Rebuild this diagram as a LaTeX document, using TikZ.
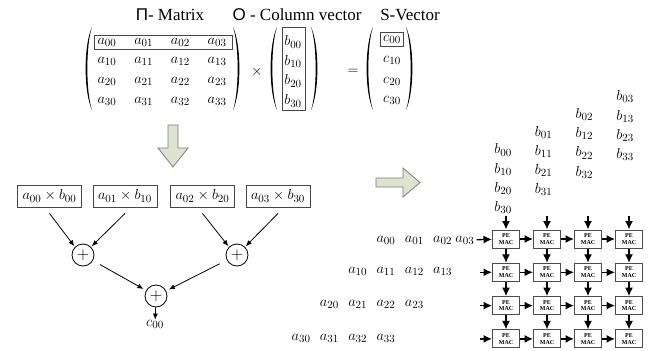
\documentclass[tikz,border=0pt]{standalone}
\usepackage{fontspec}
\newfontfamily\seriflabel{Liberation Serif}
\newfontfamily\sanslabel{Liberation Sans}
\usepackage{amsmath}
\usepackage{xcolor}
\definecolor{arrowfill}{RGB}{222,227,208}
\definecolor{arrowedge}{RGB}{125,125,125}
\definecolor{boxedge}{RGB}{70,70,70}
\usetikzlibrary{arrows.meta, positioning, calc}

% parentheses of the matrices (x of outer edge)
\newcommand{\leftbrk}[1]{\fill (#1+7,27) .. controls (#1-1.5,45) and (#1-1.5,92) .. (#1+7,110)
    .. controls (#1+0.8,92) and (#1+0.8,45) .. cycle;}
\newcommand{\rightbrk}[1]{\fill (#1-7,27) .. controls (#1+1.5,45) and (#1+1.5,92) .. (#1-7,110)
    .. controls (#1-0.8,92) and (#1-0.8,45) .. cycle;}

\begin{document}
\begin{tikzpicture}[
    x=1pt, y=-1pt,
    >={Latex[length=6pt,width=5pt]},
    entry/.style={inner sep=0pt, font=\fontsize{15}{17}\selectfont},
    heading/.style={font=\seriflabel\fontsize{17}{19}\selectfont},
    prodbox/.style={draw=boxedge, line width=0.9pt, minimum width=64pt, minimum height=22pt, inner sep=2pt, font=\fontsize{15}{17}\selectfont},
    adder/.style={circle, draw, line width=0.8pt, minimum size=22pt, inner sep=0pt, font=\fontsize{16}{18}\selectfont},
    pe/.style={draw=black!70, line width=1pt, fill=white, minimum width=27pt, minimum height=18pt, inner sep=0pt, align=center, font=\seriflabel\bfseries\fontsize{6}{6.5}\selectfont},
    flow/.style={->, >={Latex[length=8.5pt,width=8pt]}, line width=1.3pt},
    blockarrow/.style={fill=arrowfill, draw=arrowedge, line width=0.8pt}
]
\useasboundingbox (0,0) rectangle (654,351);

% Titulos
\node[heading] (tmat) at (170,15) {{\sanslabel Π}- Matrix};
\node[heading] (tcol) at (297,15) {{\sanslabel O} - Column vector};
\node[heading] (tsv) at (410,15) {S-Vector};

% Matriz A
\leftbrk{85} \rightbrk{240}
\foreach \i/\y in {0/42,1/61.5,2/81,3/101} {
    \foreach \j in {0,...,3} {
        \node[entry] (m-\i-\j) at ({107+36.7*\j}, \y) {$a_{\i\j}$};
    }
}
\draw[boxedge, line width=0.9pt] (94,35) rectangle (232,49);
\node[entry] (times) at (257,72) {$\times$};

% Vector B
\leftbrk{270} \rightbrk{318}
\foreach \i/\y in {0/42,1/61.5,2/81,3/101} {
    \node[entry] (bv-\i) at (293, \y) {$b_{\i0}$};
}
\draw[boxedge, line width=0.9pt] (282,27) rectangle (305,110);
\node[entry] (equals) at (353,72) {$=$};

% Vector C
\leftbrk{366} \rightbrk{413}
\foreach \i/\y in {0/39.5,1/60.5,2/81,3/100} {
    \node[entry] (cv-\i) at (392, \y) {$c_{\i0}$};
}
\draw[boxedge, line width=0.9pt] (380,32.5) rectangle (403,46.5);

% Flechas gruesas
\draw[blockarrow] (168,125) -- (178,125) -- (178,148) -- (188,148) -- (173,167) -- (158,148) -- (168,148) -- cycle;
\draw[blockarrow] (376,178) -- (403,178) -- (403,168) -- (420,182.5) -- (403,197) -- (403,187) -- (376,187) -- cycle;

% Productos y sumas
\node[prodbox] (p1) at (49.5,196) {$a_{00} \times b_{00}$};
\node[prodbox] (p2) at (125,196) {$a_{01} \times b_{10}$};
\node[prodbox] (p3) at (202.5,196) {$a_{02} \times b_{20}$};
\node[prodbox] (p4) at (278,196) {$a_{03} \times b_{30}$};

\node[adder] (s1) at (83,255) {$+$};
\node[adder] (s2) at (237,255) {$+$};
\node[adder] (s3) at (156,296) {$+$};
\node[entry] (c00) at (155,324) {$c_{00}$};

\draw[->, line width=0.8pt, shorten >=1pt] ([yshift=-6pt]p1.south) -- (s1.north west);
\draw[->, line width=0.8pt, shorten >=1pt] ([yshift=-6pt]p2.south) -- (s1.north east);
\draw[->, line width=0.8pt, shorten >=1pt] ([yshift=-6pt]p3.south) -- (s2.north west);
\draw[->, line width=0.8pt, shorten >=1pt] ([yshift=-6pt]p4.south) -- (s2.north east);
\draw[->, line width=0.8pt, shorten <=8pt, shorten >=3pt] (s1) -- (s3);
\draw[->, line width=0.8pt, shorten <=8pt, shorten >=3pt] (s2) -- (s3);
\draw[->, line width=0.8pt] (s3) -- (c00);

% Entradas b (columnas escalonadas)
\foreach \k in {0,...,3} {
    \foreach \r in {0,...,3} {
        \node[entry] (sb-\r-\k) at ({503+40.7*\k}, {150-17.7*\k+19.2*\r}) {$b_{\r\k}$};
    }
}

% Entradas a (filas escalonadas)
\foreach \i/\y in {0/240,1/271,2/304,3/338} {
    \foreach \j in {0,...,3} {
        \node[entry] (sa-\i-\j) at ({386+28.3*(\j-\i)-ifthenelse((\i==0)&&(\j==3),6,0)}, \y) {$a_{\i\j}$};
    }
}

% Red sistolica PE
\foreach \r in {0,...,3} {
    \foreach \c in {0,...,3} {
        \node[pe] (pe-\r-\c) at ({506+41*\c}, {239+33.3*\r}) {PE\\MAC};
    }
}
\foreach \r in {0,...,3} {
    \foreach \c/\n in {0/1,1/2,2/3} {
        \draw[flow] (pe-\r-\c) -- (pe-\r-\n);
        \draw[flow] (pe-\c-\r) -- (pe-\n-\r);
    }
}
\foreach \c in {0,...,3} {
    \coordinate (in-\c) at ({506+41*\c}, 216);
    \draw[flow] (in-\c) -- (pe-0-\c);
}
\draw[flow, shorten <=2pt] (sa-0-3) -- (pe-0-0);
\foreach \r in {1,2,3} {
    \coordinate (ain-\r) at (480, {239+33.3*\r});
    \draw[flow] (ain-\r) -- (pe-\r-0);
}

\end{tikzpicture}
\end{document}
